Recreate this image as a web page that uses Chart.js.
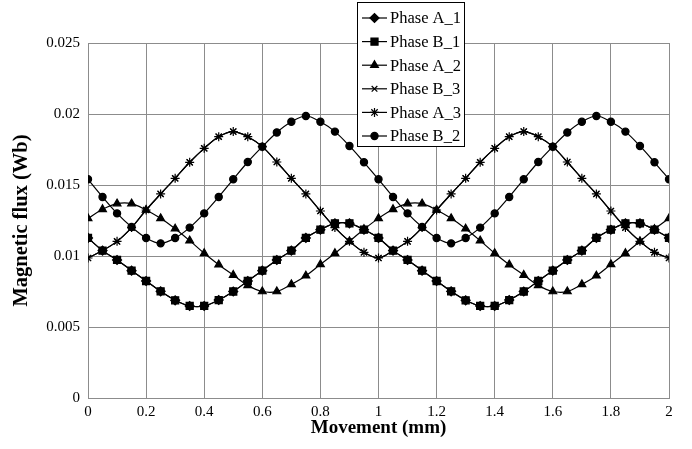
<!DOCTYPE html>
<html><head><meta charset="utf-8">
<script src="https://cdn.jsdelivr.net/npm/chart.js@4"></script>
<style>html,body{margin:0;padding:0;background:#fff}#wrap{width:692px;height:449px}</style>
</head><body><div id="wrap"><canvas id="c" width="692" height="449"></canvas></div>
<script>
const movement = [0,0.05,0.1,0.15,0.2,0.25,0.3,0.35,0.4,0.45,0.5,0.55,0.6,0.65,0.7,0.75,0.8,0.85,0.9,0.95,1,
  1.05,1.1,1.15,1.2,1.25,1.3,1.35,1.4,1.45,1.5,1.55,1.6,1.65,1.7,1.75,1.8,1.85,1.9,1.95,2];
const phaseA1 = [0.01127,0.01038,0.00972,0.00897,0.00824,0.00751,0.00688,0.00648,0.00648,0.0069,0.0075,0.00824,0.00897,0.00972,0.01038,0.01127,0.01185,0.0123,0.0123,0.01185,0.01127,
  0.01038,0.00972,0.00897,0.00824,0.00751,0.00688,0.00648,0.00648,0.0069,0.0075,0.00824,0.00897,0.00972,0.01038,0.01127,0.01185,0.0123,0.0123,0.01185,0.01127];
const phaseB1 = [0.01127,0.01038,0.00972,0.00897,0.00824,0.00751,0.00688,0.00648,0.00648,0.0069,0.0075,0.00824,0.00897,0.00972,0.01038,0.01127,0.01185,0.0123,0.0123,0.01185,0.01127,
  0.01038,0.00972,0.00897,0.00824,0.00751,0.00688,0.00648,0.00648,0.0069,0.0075,0.00824,0.00897,0.00972,0.01038,0.01127,0.01185,0.0123,0.0123,0.01185,0.01127];
const phaseA2 = [0.01265,0.01329,0.01369,0.01369,0.01324,0.01265,0.01192,0.01108,0.01019,0.00939,0.00866,0.00793,0.0075,0.0075,0.008,0.00861,0.00941,0.01019,0.01103,0.01188,0.01265,
  0.01329,0.01369,0.01369,0.01324,0.01265,0.01192,0.01108,0.01019,0.00939,0.00866,0.00793,0.0075,0.0075,0.008,0.00861,0.00941,0.01019,0.01103,0.01188,0.01265];
const phaseB3 = [0.00986,0.01038,0.01103,0.012,0.01324,0.01437,0.01547,0.0166,0.01758,0.0184,0.01876,0.0184,0.0177,0.01662,0.01547,0.01437,0.01317,0.012,0.01103,0.01026,0.00986,
  0.01038,0.01103,0.012,0.01324,0.01437,0.01547,0.0166,0.01758,0.0184,0.01876,0.0184,0.0177,0.01662,0.01547,0.01437,0.01317,0.012,0.01103,0.01026,0.00986];
const phaseA3 = phaseB3.slice();
const phaseB2 = [0.0154,0.01416,0.013,0.01204,0.01127,0.01089,0.01127,0.012,0.013,0.01416,0.0154,0.01662,0.0177,0.0187,0.01945,0.01986,0.01945,0.01876,0.01775,0.0166,0.0154,
  0.01416,0.013,0.01204,0.01127,0.01089,0.01127,0.012,0.013,0.01416,0.0154,0.01662,0.0177,0.0187,0.01945,0.01986,0.01945,0.01876,0.01775,0.0166,0.0154];
const seriesNames = ['Phase A_1','Phase B_1','Phase A_2','Phase B_3','Phase A_3','Phase B_2'];
const seriesData = [phaseA1,phaseB1,phaseA2,phaseB3,phaseA3,phaseB2];
const xTicks = [0,0.2,0.4,0.6,0.8,1,1.2,1.4,1.6,1.8,2];
const yTicks = [0,0.005,0.01,0.015,0.02,0.025];

const styles = [
  {pointStyle:'rectRot', radius:4.5},
  {pointStyle:'rect', radius:5},
  {pointStyle:'triangle', radius:4.5},
  {pointStyle:'crossRot', radius:4},
  {pointStyle:'star', radius:4.5},
  {pointStyle:'circle', radius:3.6}
];
const serif = "'Liberation Serif','Times New Roman',serif";

const datasets = seriesNames.map((n,i)=>({
  label:n,
  data: movement.map((x,j)=>({x:x,y:seriesData[i][j]})),
  borderColor:'#000', backgroundColor:'#000', borderWidth:1.2,
  pointStyle:styles[i].pointStyle, pointRadius:styles[i].radius,
  pointBorderColor:'#000', pointBackgroundColor:'#000', pointBorderWidth:1.2,
  tension:0.35, fill:false
}));

const legendPlugin = {
  id:'boxLegend',
  afterDraw(chart){
    const ctx = chart.ctx;
    const left=357, top=2, w=107, h=144, rowH=23.6;
    ctx.save();
    ctx.fillStyle='#fff'; ctx.fillRect(left,top,w,h);
    ctx.strokeStyle='#000'; ctx.lineWidth=1;
    ctx.strokeRect(left+0.5,top+0.5,w,h);
    ctx.font = "16.5px " + serif;
    ctx.textBaseline='middle'; ctx.textAlign='left';
    seriesNames.forEach((n,i)=>{
      const y = top + 16 + i*rowH;
      ctx.strokeStyle='#000'; ctx.lineWidth=1.2;
      ctx.beginPath(); ctx.moveTo(left+5,y); ctx.lineTo(left+30,y); ctx.stroke();
      ctx.fillStyle='#000';
      Chart.helpers.drawPoint(ctx,{pointStyle:styles[i].pointStyle, radius:styles[i].radius, borderWidth:1.2, rotation:0}, left+17.5, y);
      ctx.fillStyle='#000';
      ctx.fillText(n, left+33, y+1);
    });
    ctx.restore();
  }
};

new Chart(document.getElementById('c'),{
  type:'line',
  data:{datasets:datasets},
  options:{
    responsive:false, animation:false,
    layout:{padding:{left:9,right:23,top:43,bottom:0}},
    plugins:{legend:{display:false}, tooltip:{enabled:false}},
    scales:{
      x:{type:'linear', min:0, max:2,
        afterBuildTicks(s){ s.ticks = xTicks.map(v=>({value:v})); },
        afterFit(s){ s.height = 51; },
        grid:{color:'#8c8c8c', lineWidth:1, drawTicks:false},
        border:{color:'#8c8c8c'},
        ticks:{color:'#000', padding:5, font:{family:serif,size:15}, callback:v=>String(v)},
        title:{display:true, text:'Movement (mm)', color:'#000', font:{family:serif,size:19,weight:'bold'}, padding:{top:0,bottom:10}}
      },
      y:{type:'linear', min:0, max:0.025,
        afterBuildTicks(s){ s.ticks = yTicks.map(v=>({value:v})); },
        afterFit(s){ s.width = 79; },
        grid:{color:'#8c8c8c', lineWidth:1, drawTicks:false},
        border:{color:'#8c8c8c'},
        ticks:{color:'#000', padding:8, font:{family:serif,size:15}, callback:v=>String(v)},
        title:{display:true, text:'Magnetic flux (Wb)', color:'#000', font:{family:serif,size:20.5,weight:'bold'}, padding:{top:0,bottom:0}}
      }
    }
  },
  plugins:[legendPlugin]
});
</script></body></html>
